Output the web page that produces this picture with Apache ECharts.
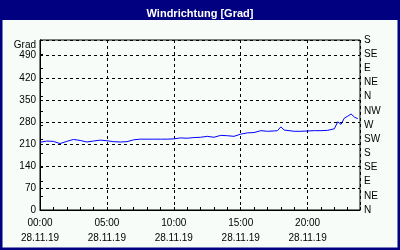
<!DOCTYPE html>
<html><head><meta charset="utf-8">
<script src="https://cdn.jsdelivr.net/npm/echarts@6/dist/echarts.min.js"></script>
<style>html,body{margin:0;padding:0;background:#F8FCF8}#c{width:400px;height:250px}</style>
</head><body><div id="c"></div>
<script>
// time in minutes since 00:00 on 28.11.19
const times = [0,30,60,90,120,150,180,210,240,270,300,330,360,390,420,450,480,510,540,570,600,630,660,690,720,750,780,810,840,870,900,930,960,990,1020,1050,1065,1080,1095,1140,1170,1200,1230,1260,1290,1320,1335,1350,1365,1380,1395,1410,1425];
const values = [215,219,218,211,218,224,221,216,219,222,220,217,216,217,223,225,225,225,225,225,226,229,228,230,231,234,231,237,236,234,241,245,246,252,250,251,252,264,254,250,250,251,252,252,253,258,280,272,292,298,305,295,290];
const yTicksLeft = [0,70,140,210,280,350,420,490];
const dirLabels = ['N','NE','E','SE','S','SW','W','NW','N','NE','E','SE','S'];
const dateLabel = '28.11.19';
const titleText = 'Windrichtung [Grad]';

const font = 'Liberation Sans';
const chart = echarts.init(document.getElementById('c'), null, {renderer:'canvas'});
const pad = n => (n<10?'0':'')+n;
chart.setOption({
  animation:false,
  backgroundColor:'#F8FCF8',
  title:{text:titleText,left:'center',top:3,textStyle:{color:'#fff',fontSize:11,fontWeight:'bold',fontFamily:font}},
  graphic:[
    {type:'rect',z:-1,shape:{x:0,y:0,width:400,height:20},style:{fill:'#000080'}},
    {type:'rect',z:100,shape:{x:0,y:0,width:400,height:250},style:{fill:null,stroke:'#000080',lineWidth:5}}
  ],
  grid:{left:40,right:40,top:40,bottom:40,show:true,borderColor:'#000',borderWidth:1,backgroundColor:'transparent'},
  xAxis:[
    {type:'value',min:0,max:1435,interval:300,position:'bottom',
     axisLine:{show:true,lineStyle:{color:'#000'}},axisTick:{show:false},
     splitLine:{show:true,lineStyle:{color:'#000',type:[3,3]}},
     axisLabel:{margin:6,color:'#000',fontSize:10,fontFamily:font,lineHeight:15,
       formatter:v=> (v%300===0 && v<1440) ? pad(v/60)+':00\n'+dateLabel : ''}},
    {type:'value',min:0,max:1435,interval:60,position:'bottom',
     axisLine:{show:false},axisTick:{show:true,inside:true,length:3,lineStyle:{color:'#000'}},
     splitLine:{show:false},axisLabel:{show:false}}
  ],
  yAxis:[
    {type:'value',min:0,max:540,interval:70,position:'left',
     name:'Grad',nameLocation:'end',nameGap:-5,
     nameTextStyle:{color:'#000',fontSize:10,fontFamily:font,align:'right',verticalAlign:'middle',padding:[0,4,0,0]},
     axisLine:{show:true,lineStyle:{color:'#000'}},axisTick:{show:false},
     splitLine:{show:true,lineStyle:{color:'#000',type:[3,3]}},
     axisLabel:{margin:4,color:'#000',fontSize:10,fontFamily:font,
       formatter:v=> yTicksLeft.indexOf(v)>=0 ? String(v) : ''}},
    {type:'value',min:0,max:540,interval:45,position:'right',
     axisLine:{show:true,lineStyle:{color:'#000'}},
     axisTick:{show:true,inside:false,length:3,lineStyle:{color:'#000'}},
     splitLine:{show:false},
     axisLabel:{margin:4,color:'#000',fontSize:10,fontFamily:font,
       formatter:v=> dirLabels[Math.round(v/45)] || ''}}
  ],
  series:[{type:'line',xAxisIndex:0,yAxisIndex:0,
    data:times.map((t,i)=>[t,values[i]]),
    showSymbol:false,symbol:'none',lineStyle:{color:'#0000FF',width:1}}]
});
</script></body></html>
